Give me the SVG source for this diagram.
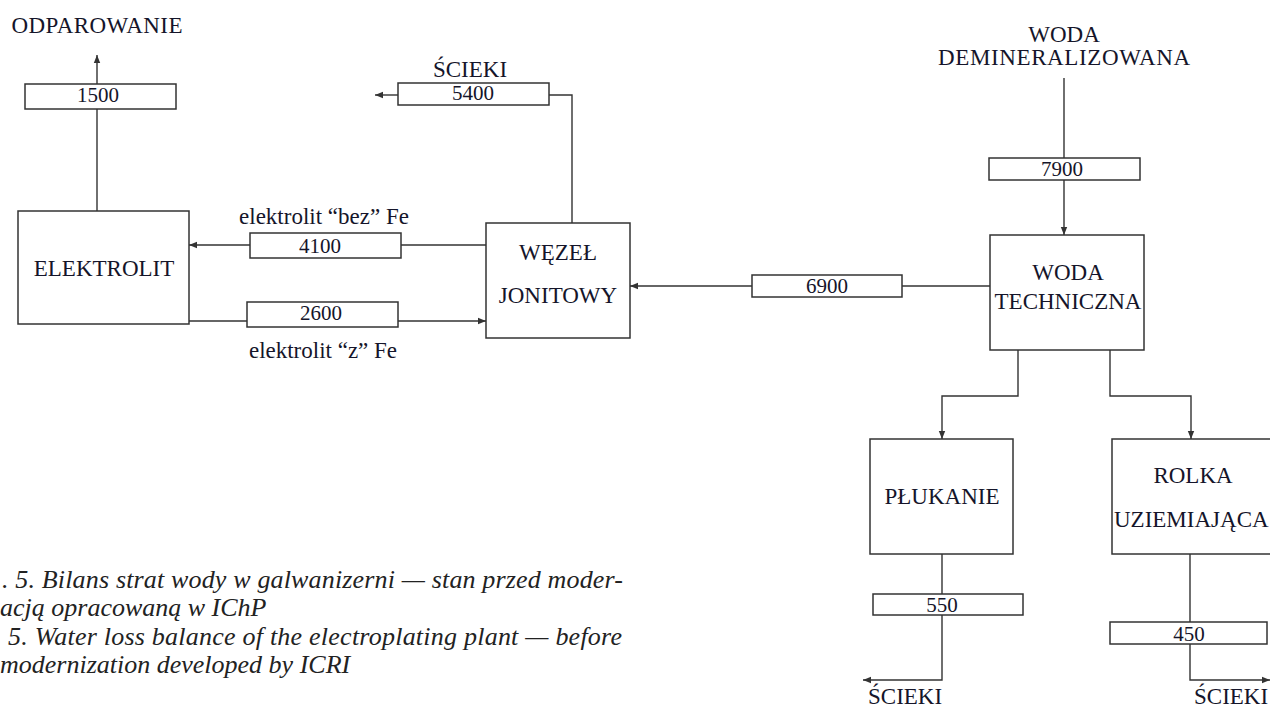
<svg xmlns="http://www.w3.org/2000/svg" width="1270" height="708" viewBox="0 0 1270 708">
<style>
  .bx { fill: #fff; stroke: #333; stroke-width: 1.5; }
  .ln { fill: none; stroke: #333; stroke-width: 1.4; }
  .arr { marker-end: url(#ah); }
  text { font-family: 'Liberation Serif', 'Times New Roman', Times, serif; fill: #15152a; }
  .t { font-size: 23px; }
  .n { font-size: 21px; text-anchor: middle; }
  .c { text-anchor: middle; }
  .cap { font-style: italic; font-size: 26px; fill: #222; }
</style>
<defs>
  <marker id="ah" markerUnits="userSpaceOnUse" markerWidth="9" markerHeight="8" refX="8" refY="4" orient="auto">
    <path d="M0,0.8 L8,4 L0,7.2 Z" fill="#333"/>
  </marker>
</defs>
<rect width="1270" height="708" fill="#fff"/>

<g id="connectors">
  <path class="ln arr" d="M97,84 V55"/>
  <path class="ln" d="M97,211 V109"/>
  <path class="ln arr" d="M250,245 H189"/>
  <path class="ln" d="M486,245 H401"/>
  <path class="ln" d="M189,321 H247"/>
  <path class="ln arr" d="M398,321 H486"/>
  <path class="ln" d="M572,223 V95 H549"/>
  <path class="ln arr" d="M398,95 H375"/>
  <path class="ln" d="M990,286 H902"/>
  <path class="ln arr" d="M752,286 H630"/>
  <path class="ln" d="M1064,78 V158"/>
  <path class="ln arr" d="M1064,180 V235"/>
  <path class="ln arr" d="M1018,350 V396 H942 V439"/>
  <path class="ln arr" d="M1110,350 V396 H1191 V439"/>
  <path class="ln" d="M942,554 V594"/>
  <path class="ln arr" d="M942,615 V680 H863"/>
  <path class="ln" d="M1190,554 V622"/>
  <path class="ln arr" d="M1190,644 V680 H1270"/>
</g>

<g id="odparowanie"><text class="t c" x="97" y="33" textLength="171">ODPAROWANIE</text></g>
<g id="flow-1500"><rect class="bx" x="25" y="84" width="151" height="25"/><text class="n" x="98" y="102">1500</text></g>
<g id="elektrolit"><rect class="bx" x="18" y="211" width="171" height="113"/><text class="t c" x="104" y="276">ELEKTROLIT</text></g>
<g id="flow-4100"><rect class="bx" x="250" y="233" width="151" height="25"/><text class="n" x="320" y="253">4100</text>
  <text class="t c" x="324" y="224">elektrolit “bez” Fe</text></g>
<g id="flow-2600"><rect class="bx" x="247" y="302" width="151" height="25"/><text class="n" x="321" y="320">2600</text>
  <text class="t c" x="323" y="358">elektrolit “z” Fe</text></g>
<g id="wezel"><rect class="bx" x="486" y="223" width="144" height="115"/>
  <text class="t c" x="558" y="260">WĘZEŁ</text><text class="t c" x="558" y="303">JONITOWY</text></g>
<g id="flow-5400"><rect class="bx" x="398" y="83" width="151" height="22"/><text class="n" x="473" y="100">5400</text>
  <text class="t c" x="470" y="77">ŚCIEKI</text></g>
<g id="flow-6900"><rect class="bx" x="752" y="275" width="150" height="22"/><text class="n" x="827" y="293">6900</text></g>
<g id="woda-demin"><text class="t c" x="1064" y="42">WODA</text><text class="t c" x="1064" y="65" textLength="252">DEMINERALIZOWANA</text></g>
<g id="flow-7900"><rect class="bx" x="989" y="158" width="151" height="22"/><text class="n" x="1062" y="176">7900</text></g>
<g id="woda-techniczna"><rect class="bx" x="990" y="235" width="154" height="115"/>
  <text class="t c" x="1068" y="280">WODA</text><text class="t c" x="1068" y="309">TECHNICZNA</text></g>
<g id="plukanie"><rect class="bx" x="870" y="439" width="143" height="115"/><text class="t c" x="942" y="504">PŁUKANIE</text></g>
<g id="rolka"><rect class="bx" x="1112" y="439" width="162" height="115"/>
  <text class="t c" x="1193" y="483">ROLKA</text><text class="t" x="1114" y="527">UZIEMIAJĄCA</text></g>
<g id="flow-550"><rect class="bx" x="873" y="594" width="150" height="21"/><text class="n" x="942" y="612">550</text></g>
<g id="flow-450"><rect class="bx" x="1110" y="622" width="157" height="22"/><text class="n" x="1189" y="641">450</text></g>
<g id="scieki-1"><text class="t" x="868" y="704">ŚCIEKI</text></g>
<g id="scieki-2"><text class="t" x="1194" y="704">ŚCIEKI</text></g>

<g id="caption">
  <text class="cap" x="2" y="588" textLength="621" lengthAdjust="spacing">. 5. Bilans strat wody w galwanizerni — stan przed moder-</text>
  <text class="cap" x="0" y="616">acją opracowaną w IChP</text>
  <text class="cap" x="8" y="645" textLength="614" lengthAdjust="spacing">5. Water loss balance of the electroplating plant — before</text>
  <text class="cap" x="0" y="673">modernization developed by ICRI</text>
</g>
</svg>
